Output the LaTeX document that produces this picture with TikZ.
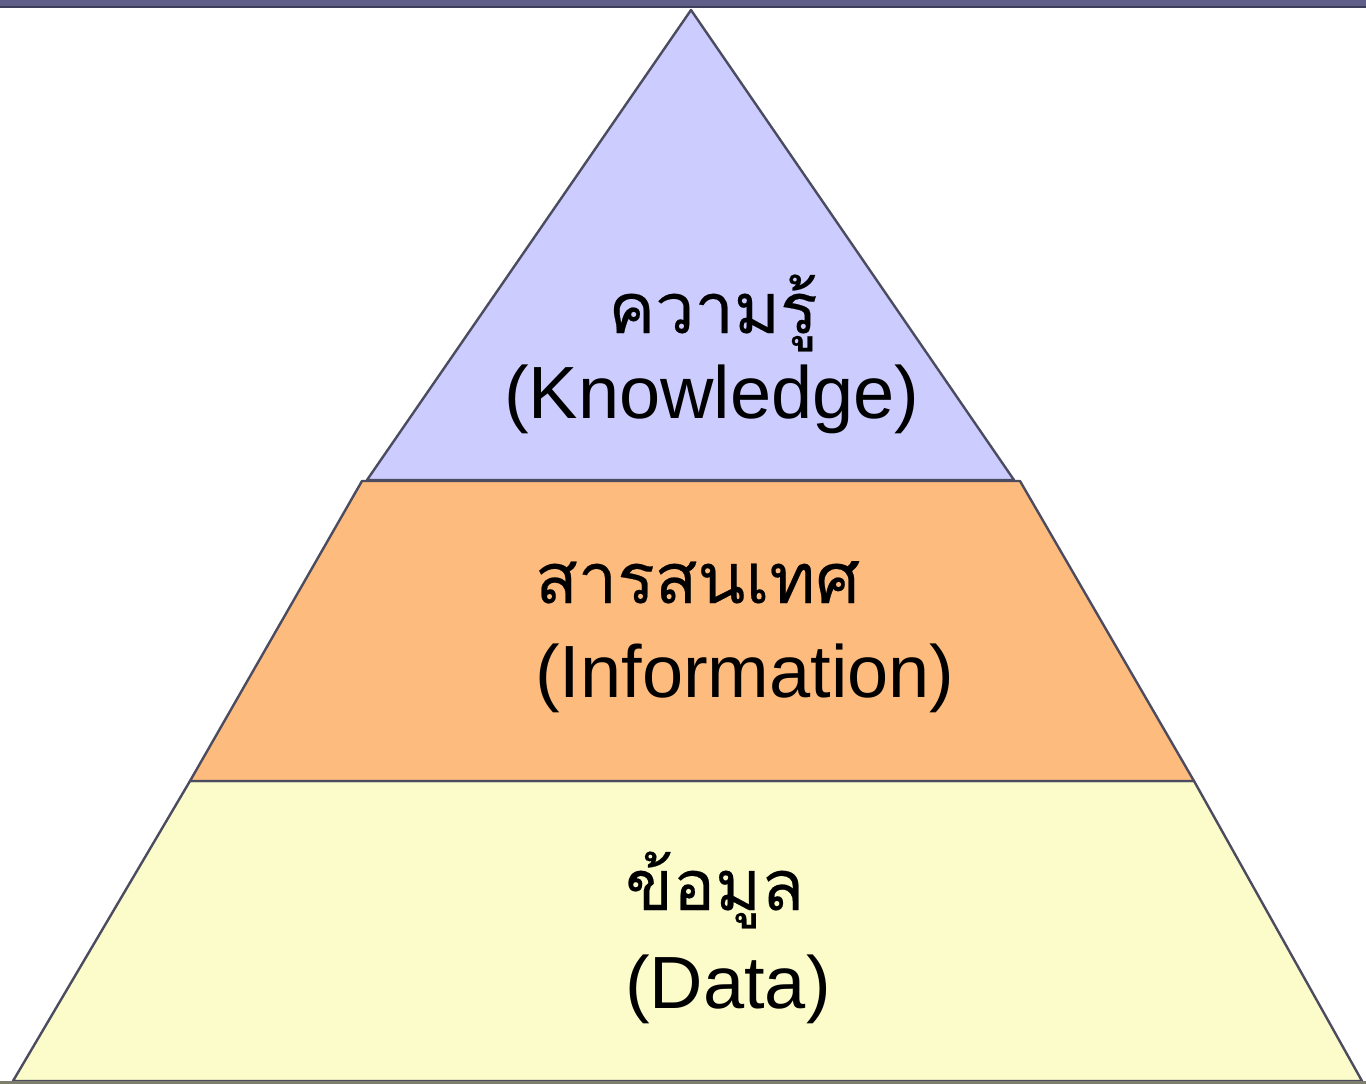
\documentclass[tikz,border=0pt]{standalone}
\usepackage{fontspec}
\setmainfont{Liberation Sans}
\newfontfamily\thaifont[Script=Thai,FakeBold=0.3]{Loma}
\definecolor{knowfill}{HTML}{CCCCFF}
\definecolor{infofill}{HTML}{FDBB7E}
\definecolor{datafill}{HTML}{FCFCCB}
\definecolor{edgecol}{HTML}{4C4C60}
\definecolor{topbar}{HTML}{5E5E88}
\definecolor{topbardark}{HTML}{3E3E5C}
\definecolor{botbar}{HTML}{7E7E6E}
\begin{document}
\begin{tikzpicture}[x=1pt,y=-1pt,
  band/.style={draw=edgecol,line width=2.4pt,line join=round},
  enlbl/.style={inner sep=0pt,font=\fontsize{74}{80}\selectfont},
  thlbl/.style={inner sep=0pt,font=\thaifont\fontsize{70}{76}\selectfont}]
\useasboundingbox (0,0) rectangle (1366,1084);
\fill[white] (0,0) rectangle (1366,1084);
% bands
\path[band,fill=datafill] (190,781) -- (1194,781) -- (1362,1081) -- (13,1081) -- cycle;
\path[band,fill=infofill] (362,481) -- (1020,481) -- (1194,781) -- (190,781) -- cycle;
\path[band,fill=knowfill] (691,10) -- (1014,480) -- (367,480) -- cycle;
% frame bars
\fill[topbar] (0,0) rectangle (1366,8);
\fill[topbardark] (0,5.5) rectangle (1366,8);
\fill[botbar] (0,1081) rectangle (1366,1084);
% labels
\node[thlbl,anchor=base] (kth) at (713,333) {ความรู้};
\node[enlbl,anchor=base] (ken) at (712,418) {(Knowledge)};
\node[thlbl,anchor=base west] (ith) at (535,603) {สารสนเทศ};
\node[enlbl,anchor=base west] (ien) at (535,697) {(Information)};
\node[thlbl,anchor=base west] (dth) at (625,910) {ข้อมูล};
\node[enlbl,anchor=base west] (den) at (625,1008) {(Data)};
\end{tikzpicture}
\end{document}
